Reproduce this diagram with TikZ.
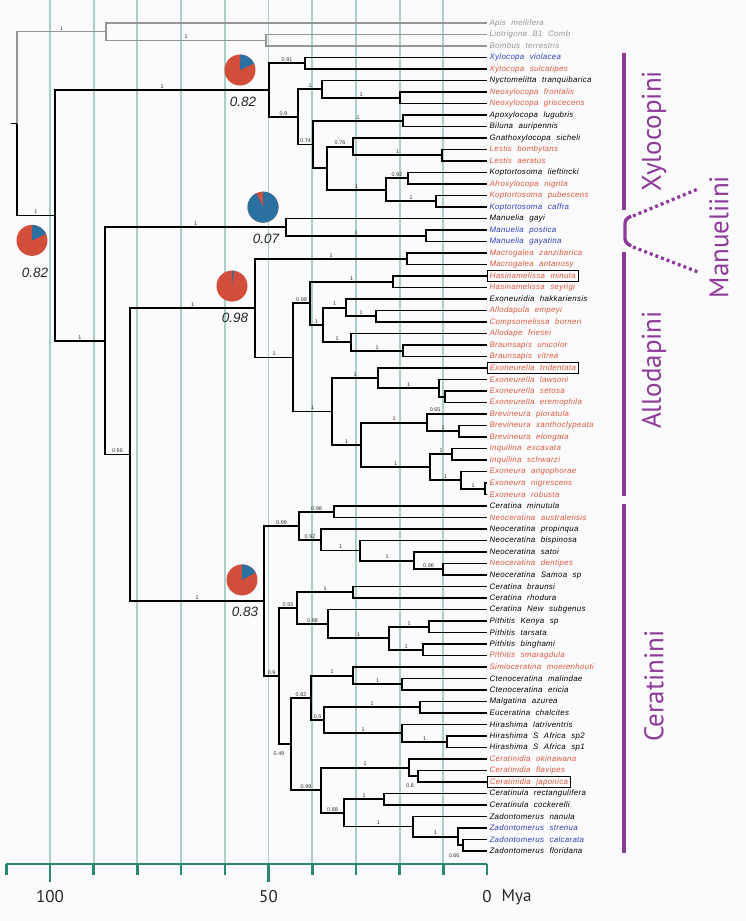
\documentclass[tikz,border=0pt]{standalone}
\usepackage{fontspec}
\setmainfont{Liberation Sans}
\newfontfamily\taxonfont[WordSpace=2.2,LetterSpace=4]{Liberation Sans}
\newfontfamily\cladefont{PT Sans}
\usetikzlibrary{calc}

\definecolor{taxred}{RGB}{222,88,58}
\definecolor{taxblue}{RGB}{45,62,185}
\definecolor{taxgray}{RGB}{150,150,150}
\definecolor{piered}{RGB}{208,78,58}
\definecolor{pieblue}{RGB}{42,112,160}
\definecolor{gridteal}{RGB}{172,206,200}
\definecolor{axisteal}{RGB}{45,135,112}
\definecolor{tribe}{RGB}{140,60,152}
\definecolor{paper}{RGB}{251,251,253}

\begin{document}
\begin{tikzpicture}
  [x=1pt, y=-1pt,
   branch/.style={line width=1.8pt, black},
   ogline/.style={line width=1.3pt, taxgray},
   suplab/.style={inner sep=.8pt, text=black!80, font=\fontsize{5.4}{5.4}\selectfont},
   sup/.style={suplab, pos=.75, above},
   taxon/.style={anchor=west, inner xsep=2.4pt, inner ysep=0pt, minimum height=11pt,
     font=\taxonfont\itshape\fontsize{7.9}{8}\selectfont},
   tgray/.style={text=taxgray}, tred/.style={text=taxred},
   tblue/.style={text=taxblue}, tblack/.style={text=black},
   tbox/.style={text=taxred, draw=black, line width=.9pt},
   gridline/.style={gridteal, line width=1.9pt},
   timeaxis/.style={axisteal, line width=2.6pt},
   agelab/.style={text=black!85, font=\cladefont\fontsize{17}{17}\selectfont},
   pieval/.style={text=black!85, font=\itshape\fontsize{13.5}{13.5}\selectfont},
   tribebar/.style={tribe, line width=3.4pt},
   tribedots/.style={tribe, line width=3.2pt, dash pattern=on 3pt off 3pt},
   tribelab/.style={text=tribe, rotate=90, font=\cladefont\fontsize{27}{27}\selectfont}]

  \fill[paper] (0,0) rectangle (746,921);
  \useasboundingbox (0,0) rectangle (746,921);

  % time grid
  \foreach \k in {1,...,10}
    \draw[gridline] (487-43.7*\k,0) -- (487-43.7*\k,864);

  % tips
  \foreach \tip/\sty/\txt [count=\i] in {
      apis/tgray/Apis mellifera, lio/tgray/Liotrigona B1 Comb, bomb/tgray/Bombus terrestris,
      xviol/tblue/Xylocopa violacea, xsulc/tred/Xylocopa sulcatipes,
      nyct/tblack/Nyctomelitta tranquibarica, nfron/tred/Neoxylocopa frontalis,
      ngris/tred/Neoxylocopa griscecens, apox/tblack/Apoxylocopa lugubris,
      bilu/tblack/Biluna auripennis, gnat/tblack/Gnathoxylocopa sicheli,
      lbomb/tred/Lestis bombylans, laer/tred/Lestis aeratus,
      klief/tblack/Koptortosoma lieftincki, afro/tred/Afroxylocopa nigrita,
      kpub/tred/Koptortosoma pubescens, kcaf/tblue/Koptortosoma caffra,
      mgayi/tblack/Manuelia gayi, mpost/tblue/Manuelia postica, mgaya/tblue/Manuelia gayatina,
      mzan/tred/Macrogalea zanzibarica, mant/tred/Macrogalea antanosy,
      hmin/tbox/Hasinamelissa minuta, hsey/tred/Hasinamelissa seyrigi,
      exhak/tblack/Exoneuridia hakkariensis, aemp/tred/Allodapula empeyi,
      cbor/tred/Compsomelissa borneri, afri/tred/Allodape friesei,
      buni/tred/Braunsapis unicolor, bvit/tred/Braunsapis vitrea,
      etri/tbox/Exoneurella tridentata, elaw/tred/Exoneurella lawsoni,
      eset/tred/Exoneurella setosa, eere/tred/Exoneurella eremophila,
      bplo/tred/Brevineura ploratula, bxan/tred/Brevineura xanthoclypeata,
      belo/tred/Brevineura elongata, iexc/tred/Inquilina excavata, isch/tred/Inquilina schwarzi,
      eang/tred/Exoneura angophorae, enig/tred/Exoneura nigrescens, erob/tred/Exoneura robusta,
      cmin/tblack/Ceratina minutula, naus/tred/Neoceratina australensis,
      nprop/tblack/Neoceratina propinqua, nbisp/tblack/Neoceratina bispinosa,
      nsat/tblack/Neoceratina satoi, ndent/tred/Neoceratina dentipes,
      nsam/tblack/Neoceratina Samoa sp, cbra/tblack/Ceratina braunsi,
      crho/tblack/Ceratina rhodura, cnew/tblack/Ceratina New subgenus,
      pken/tblack/Pithitis Kenya sp, ptar/tblack/Pithitis tarsata,
      pbin/tblack/Pithitis binghami, psma/tred/Pithitis smaragdula,
      smoe/tred/Simioceratina moerenhouti, cmal/tblack/Ctenoceratina malindae,
      ceri/tblack/Ctenoceratina ericia, maz/tblack/Malgatina azurea,
      echa/tblack/Euceratina chalcites, hlat/tblack/Hirashima latriventris,
      hsp2/tblack/Hirashima S Africa sp2, hsp1/tblack/Hirashima S Africa sp1,
      coki/tred/Ceratinidia okinawana, cfla/tred/Ceratinidia flavipes,
      cjap/tbox/Ceratinidia japonica, crec/tblack/Ceratinula rectangulifera,
      ccoc/tblack/Ceratinula cockerelli, znan/tblack/Zadontomerus nanula,
      zstr/tblue/Zadontomerus strenua, zcal/tblue/Zadontomerus calcarata,
      zflo/tblack/Zadontomerus floridana}
  {
    \coordinate (\tip) at (487,{23+(\i-1)*11.5});
    \node[taxon, \sty] (lab-\tip) at (\tip) {\txt};
  }

  % outgroup
  \foreach \cl/\cx/\ca/\supa/\cb/\supb in {lb/266/lio//bomb/, og/106/apis//lb/1}
  {
    \path let \p1=(\ca), \p2=(\cb) in coordinate (\cl) at (\cx pt,{(\y1+\y2)/2});
    \draw[ogline] (\cl) |- node[sup] (sup-\cl-a) {\supa} (\ca);
    \draw[ogline] (\cl) |- node[sup] (sup-\cl-b) {\supb} (\cb);
  }

  % ingroup, children before parents
  \foreach \cl/\cx/\ca/\supa/\cb/\supb in {
      xa/305/xviol//xsulc/, neo/400/nfron//ngris/, n1/322/nyct//neo/1,
      apbi/403/apox//bilu/, lest/442/lbomb//laer/, g76/353/gnat//lest/1,
      kl/408/klief//afro/, kp/436/kpub//kcaf/, k1/386/kl/0.92/kp/1,
      x4/327/g76/0.76/k1/1, x3/313/apbi/1/x4/, x2/298/n1/1/x3/0.74,
      xyl/269/xa/0.91/x2/0.9,
      mpg/426/mpost//mgaya/, man/286/mgayi//mpg/1,
      mac/407/mzan//mant/, has/393/hmin//hsey/, ac/376/aemp//cbor/,
      al5/346/exhak//ac/1, bra/403/buni//bvit/, al6/351/afri//bra/1,
      al4/323/al5/1/al6/1, a99/310/has/1/al4/1,
      ex3/445/eset//eere/, ex2/439/elaw//ex3/, ex1/378/etri//ex2/1,
      bxe/459/bxan//belo/, brev/427/bplo//bxe/1, inq/452/iexc//isch/,
      enr/485/enig//erob/, exn/461/eang//enr/1, ie/430/inq/1/exn/1,
      br0/361/brev/1/ie/1, al7/332/ex1/1/br0/1, al2/293/a99/0.99/al7/1,
      allo/255/mac/1/al2/1,
      c98/334/cmin//naus/, d96/443/ndent//nsam/, n3/414/nsat//d96/0.96,
      n2/360/nbisp//n3/1, n92/321/nprop//n2/1, c1/299/c98/0.98/n92/0.92,
      cbr/353/cbra//crho/, pk/429/pken//ptar/, pb/423/pbin//psma/,
      p1/389/pk/1/pb/1, c98b/328/cnew//p1/1, c55/297/cbr/1/c98b/0.98,
      cte/402/cmal//ceri/, s1/353/smoe//cte/1, me/420/maz//echa/,
      hs/447/hsp2//hsp1/, h1/402/hlat//hs/1, c5/324/me/1/h1/1,
      c82/311/s1/1/c5/0.5, c8/418/cfla//cjap/, cd1/409/coki//c8/,
      cr/384/crec//ccoc/, z3/463/zcal//zflo/, z2/458/zstr//z3/,
      z1/413/znan//z2/1, c88/344/cr/1/z1/1, c99/321/cd1/1/c88/0.88,
      c3/291/c82/0.82/c99/0.99, c2/279/c55/0.55/c3/, cer/264/c1/0.99/c2/0.9,
      ac96/130/allo/1/cer/1, rest/105/man/1/ac96/0.96, ing/55/xyl/1/rest/1}
  {
    \path let \p1=(\ca), \p2=(\cb) in coordinate (\cl) at (\cx pt,{(\y1+\y2)/2});
    \draw[branch] (\cl) |- node[sup] (sup-\cl-a) {\supa} (\ca);
    \draw[branch] (\cl) |- node[sup] (sup-\cl-b) {\supb} (\cb);
  }

  % root
  \path let \p1=(og), \p2=(ing) in coordinate (root) at (17pt,{(\y1+\y2)/2});
  \draw[ogline] (root) |- node[sup] (sup-root-a) {1} (og);
  \draw[branch] (root) |- node[sup] (sup-root-b) {1} (ing);
  \coordinate (stem) at ($(root)+(-6,0)$);
  \draw[branch] (stem) -- (root);

  % supports set under the node
  \node[suplab] (sup-ex3) at ($(ex3)+(-10,13)$) {0.65};
  \node[suplab] (sup-c8) at ($(c8)+(-8,9)$) {0.8};
  \node[suplab] (sup-z3) at ($(z3)+(-9,10)$) {0.66};
  \node[suplab] (sup-c3) at ($(c3)+(-12,10)$) {0.49};

  % ancestral state pies
  \foreach \cl/\dx/\dy/\v in {ing/-23/25/0.82, xyl/-29/-20/0.82, man/-23/-20/0.07,
      allo/-23/-22/0.98, cer/-22/-21/0.83}
  {
    \coordinate (pie-\cl) at ($(\cl)+(\dx,\dy)$);
    \fill[piered] (pie-\cl) circle[radius=15.5pt];
    \fill[pieblue] (pie-\cl) -- ++(90:15.5pt)
      arc[start angle=90, delta angle={-(1-\v)*360}, radius=15.5pt] -- cycle;
    \node[pieval] (val-\cl) at ($(pie-\cl)+(3,32)$) {\v};
  }

  % time axis
  \foreach \k in {0,...,11}
    \coordinate (tick\k) at (487-43.7*\k,864);
  \draw[timeaxis] (tick11) -- (tick0);
  \foreach \k in {0,...,11}
    \draw[timeaxis] (tick\k) -- ++(0,11);
  \draw[timeaxis] (tick5) -- ++(0,18);
  \draw[timeaxis] (tick10) -- ++(0,18);
  \node[agelab] (age100) at ($(tick10)+(0,33)$) {100};
  \node[agelab] (age50) at ($(tick5)+(0,33)$) {50};
  \node[agelab] (age0) at ($(tick0)+(0,33)$) {0};
  \node[agelab, anchor=west] (mya) at ($(age0.east)+(3,0)$) {Mya};

  % tribes
  \draw[tribebar] (624,53) -- (624,210);
  \draw[tribebar] (624,252) -- (624,496);
  \draw[tribebar] (624,504) -- (624,853);
  \draw[tribebar, rounded corners=3pt] (631,216) -- (625,220) -- (625,242) -- (631,246);
  \draw[tribedots] (633,216) -- (698,189);
  \draw[tribedots] (633,247) -- (698,272);
  \node[tribelab] (xylo) at (654,131) {Xylocopini};
  \node[tribelab] (allod) at (654,370) {Allodapini};
  \node[tribelab] (cerat) at (654,686) {Ceratinini};
  \node[tribelab] (manu) at (719,237) {Manueliini};
\end{tikzpicture}
\end{document}
